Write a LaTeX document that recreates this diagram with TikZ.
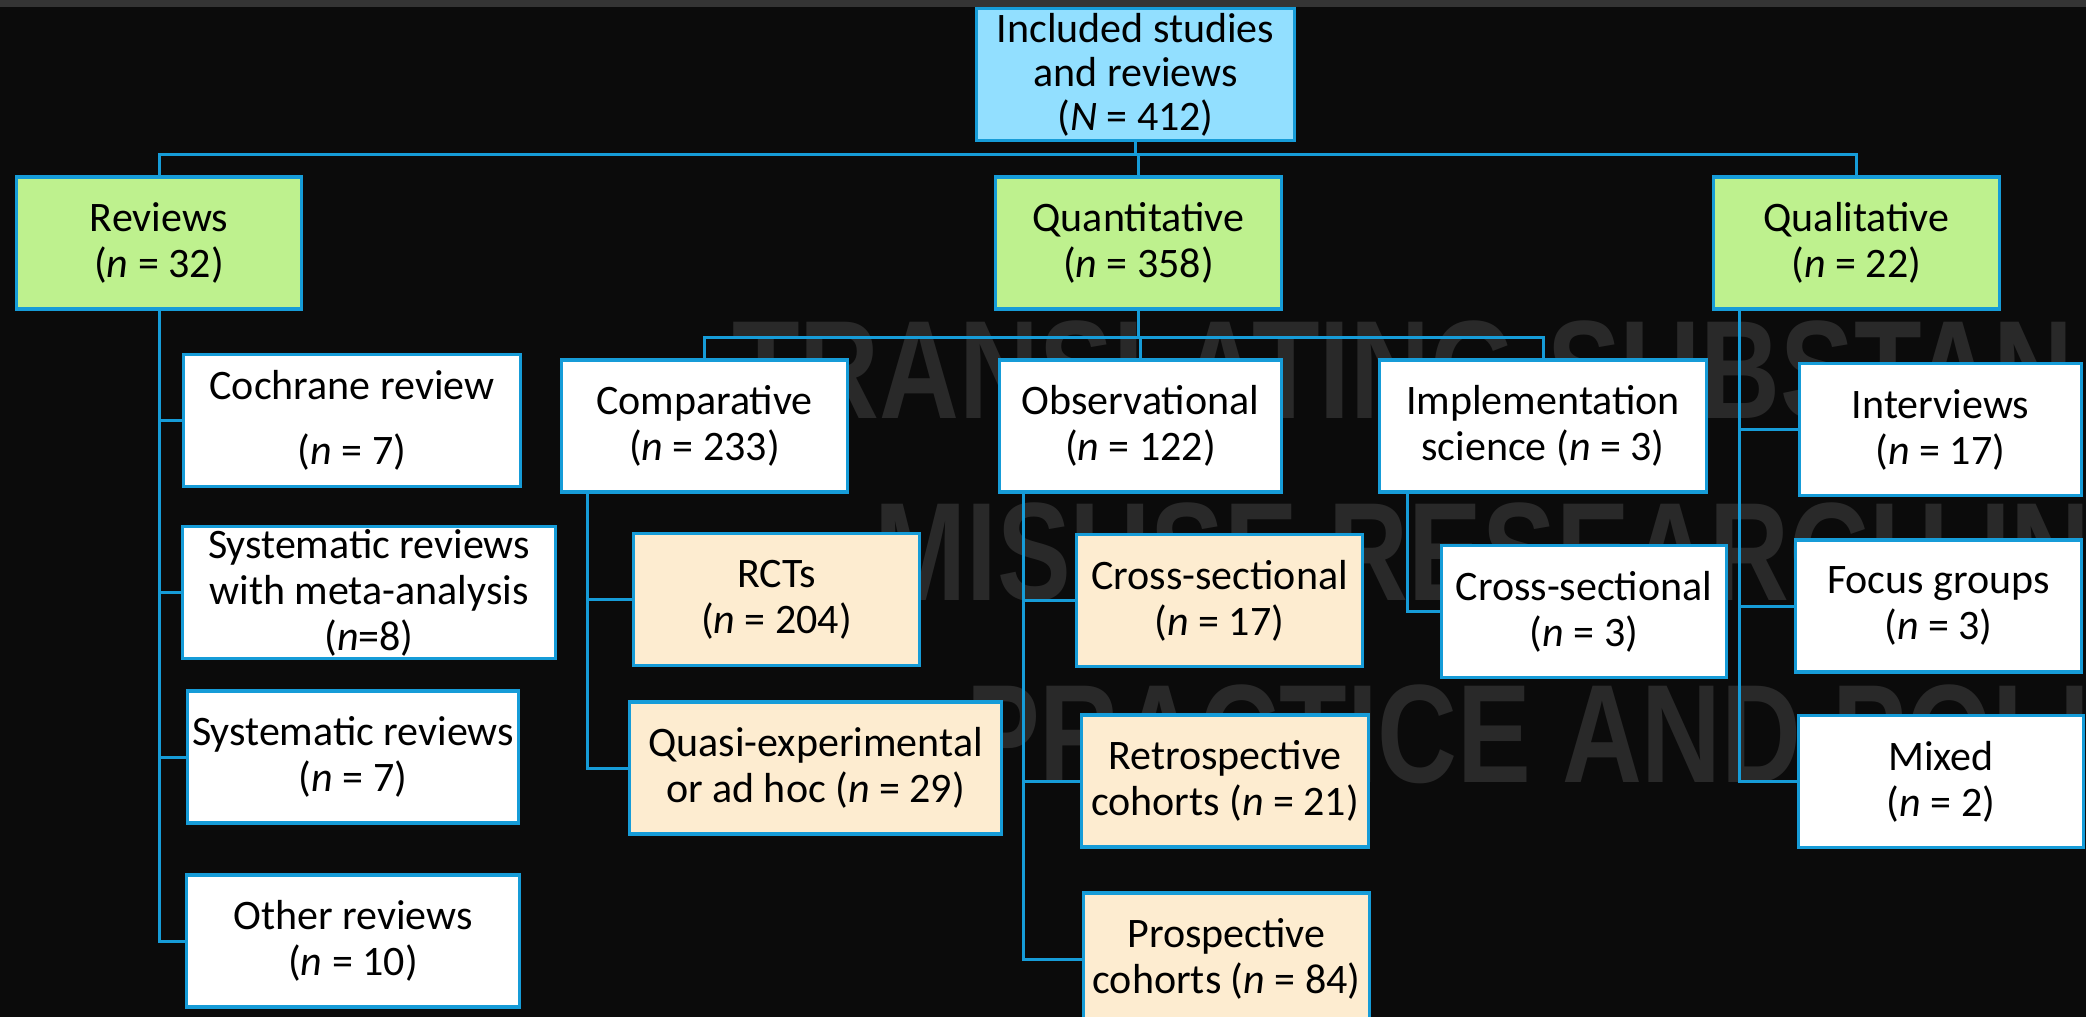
\documentclass[tikz,border=0pt]{standalone}
\usepackage{fontspec}
\setmainfont{Carlito}
\newfontfamily\wmfont{Liberation Sans}
\definecolor{bg}{HTML}{0B0B0B}
\definecolor{edge}{HTML}{169CD8}
\definecolor{rootfill}{HTML}{92DFFF}
\definecolor{greenfill}{HTML}{BEF18E}
\definecolor{tanfill}{HTML}{FDECD0}
\definecolor{wm}{HTML}{292929}
\definecolor{topbar}{HTML}{343434}
\begin{document}
\begin{tikzpicture}[x=1pt,y=-1pt,
  box/.style={draw=edge, line width=3.2pt, rectangle, inner sep=0pt, align=center,
    minimum height=132pt, font=\fontsize{42}{46}\selectfont, text=black},
  rootbox/.style={box, fill=rootfill, font=\fontsize{42}{44}\selectfont},
  grp/.style={box, fill=greenfill},
  tanbox/.style={box, fill=tanfill},
  leaf/.style={box, fill=white},
  link/.style={draw=edge, line width=3pt},
  wmtext/.style={text=wm, font=\wmfont\bfseries\fontsize{140}{140}\selectfont,
    xscale=0.79, anchor=base west, inner sep=0pt}
]
\useasboundingbox (0,0) rectangle (2086,1017);
\clip (0,0) rectangle (2086,1017);
\fill[bg] (0,0) rectangle (2086,1017);
\fill[topbar] (0,0) rectangle (2086,7);

% background watermark
\node[wmtext] (wm1) at (732,418) {TRANSLATING SUBSTAN};
\node[wmtext] (wm2) at (874,600) {MISUSE RESEARCH IN};
\node[wmtext] (wm3) at (966,782) {PRACTICE AND POLI};

% boxes
\node[rootbox, minimum width=318pt] (root) at (1135.5,74.5) {Included studies\\and reviews\\(\textit{N} = 412)};
\node[grp, minimum width=285pt] (reviews) at (159,243) {Reviews\\(\textit{n} = 32)};
\node[grp, minimum width=286pt] (quant) at (1138.5,243) {Quantitative\\(\textit{n} = 358)};
\node[grp, minimum width=286pt] (qual) at (1856.5,243) {Qualitative\\(\textit{n} = 22)};

\node[leaf, minimum width=337pt] (cochrane) at (352,420.5) {Cochrane review\\[19pt](\textit{n} = 7)};
\node[leaf, minimum width=373pt] (srmeta) at (369,592.5) {Systematic reviews\\with meta-analysis\\(\textit{n}=8)};
\node[leaf, minimum width=331pt] (sr) at (353,757) {Systematic reviews\\(\textit{n} = 7)};
\node[leaf, minimum width=333pt] (other) at (353,941) {Other reviews\\(\textit{n} = 10)};

\node[leaf, minimum width=286pt] (comp) at (704.5,426) {Comparative\\(\textit{n} = 233)};
\node[leaf, minimum width=282pt] (obs) at (1140.5,426) {Observational\\(\textit{n} = 122)};
\node[leaf, minimum width=327pt] (impl) at (1543,426) {Implementation\\science (\textit{n} = 3)};

\node[tanbox, minimum width=286pt] (rct) at (776.5,599.5) {RCTs\\(\textit{n} = 204)};
\node[tanbox, minimum width=372pt] (quasi) at (815.5,768) {Quasi-experimental\\or ad hoc (\textit{n} = 29)};
\node[tanbox, minimum width=286pt] (xobs) at (1219.5,600.5) {Cross-sectional\\(\textit{n} = 17)};
\node[tanbox, minimum width=287pt] (retro) at (1225,781) {Retrospective\\cohorts (\textit{n} = 21)};
\node[tanbox, minimum width=286pt] (prosp) at (1226.5,959) {Prospective\\cohorts (\textit{n} = 84)};
\node[leaf, minimum width=285pt] (ximpl) at (1584,611.5) {Cross-sectional\\(\textit{n} = 3)};

\node[leaf, minimum width=282pt] (interv) at (1940.5,429.5) {Interviews\\(\textit{n} = 17)};
\node[leaf, minimum width=286pt] (focus) at (1938.5,606) {Focus groups\\(\textit{n} = 3)};
\node[leaf, minimum width=285pt] (mixed) at (1941,781.5) {Mixed\\(\textit{n} = 2)};

% connectors
\coordinate (bus1) at (0,154);
\coordinate (bus2) at (0,337);
\draw[link] (root.south) -- (root.south |- bus1);
\draw[link] (reviews.north) |- (bus1 -| qual.north) -- (qual.north);
\draw[link] (quant.north) -- (quant.north |- bus1);
\draw[link] (quant.south) -- (quant.south |- bus2);
\draw[link] (comp.north) |- (bus2 -| impl.north) -- (impl.north);
\draw[link] (obs.north) -- (obs.north |- bus2);

\draw[link] (reviews.south) |- (cochrane.west);
\draw[link] (reviews.south) |- (srmeta.west);
\draw[link] (reviews.south) |- (sr.west);
\draw[link] (reviews.south) |- (other.west);

\coordinate (cstem) at ([xshift=28pt]comp.south west);
\draw[link] (cstem) |- (rct.west);
\draw[link] (cstem) |- (quasi.west);

\coordinate (ostem) at ([xshift=26pt]obs.south west);
\draw[link] (ostem) |- (xobs.west);
\draw[link] (ostem) |- (retro.west);
\draw[link] (ostem) |- (prosp.west);

\coordinate (istem) at ([xshift=30pt]impl.south west);
\draw[link] (istem) |- (ximpl.west);

\coordinate (qstem) at ([xshift=28pt]qual.south west);
\draw[link] (qstem) |- (interv.west);
\draw[link] (qstem) |- (focus.west);
\draw[link] (qstem) |- (mixed.west);
\end{tikzpicture}
\end{document}
